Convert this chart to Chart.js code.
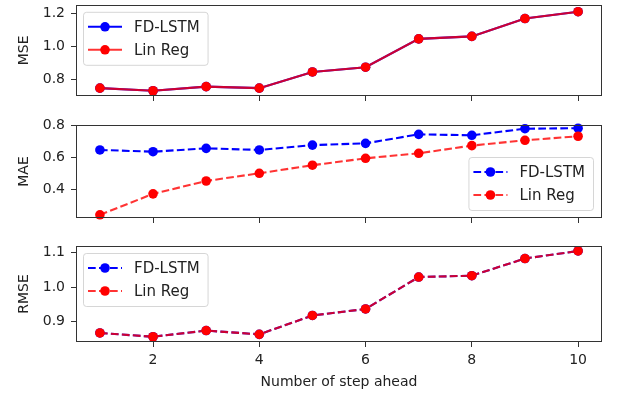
<!DOCTYPE html>
<html>
<head>
<meta charset="utf-8">
<script src="https://cdn.jsdelivr.net/npm/chart.js@4.4.1/dist/chart.umd.min.js"></script>
<style>
  body { margin: 0; background: #fff; }
  #wrap { position: relative; width: 617px; height: 396px; }
  canvas { position: absolute; left: 0; }
</style>
</head>
<body>
<div id="wrap">
  <canvas id="mseChart" width="617" height="110" style="top:0px"></canvas>
  <canvas id="maeChart" width="617" height="120" style="top:112px"></canvas>
  <canvas id="rmseChart" width="617" height="162" style="top:234px"></canvas>
</div>
<script>
// data
const steps = [1, 2, 3, 4, 5, 6, 7, 8, 9, 10];
const seriesNames = ['FD-LSTM', 'Lin Reg'];

const mseLstm   = [0.745, 0.729, 0.754, 0.745, 0.844, 0.873, 1.046, 1.061, 1.170, 1.212];
const mseLinReg = [0.745, 0.729, 0.754, 0.745, 0.844, 0.873, 1.046, 1.061, 1.170, 1.212];

const maeLstm   = [0.648, 0.637, 0.658, 0.648, 0.678, 0.689, 0.745, 0.739, 0.780, 0.783];
const maeLinReg = [0.245, 0.375, 0.455, 0.503, 0.553, 0.596, 0.627, 0.675, 0.708, 0.733];

const rmseLstm   = [0.866, 0.855, 0.873, 0.862, 0.917, 0.936, 1.029, 1.033, 1.083, 1.105];
const rmseLinReg = [0.866, 0.855, 0.873, 0.862, 0.917, 0.936, 1.029, 1.033, 1.083, 1.105];

const xTicks = [2, 4, 6, 8, 10];
const mseTicks = [0.8, 1.0, 1.2];
const maeTicks = [0.4, 0.6, 0.8];
const rmseTicks = [0.9, 1.0, 1.1];

const FONT = 'DejaVu Sans';
const TEXT = '#222';
const AXIS = '#333';
const DASH = [7.7, 3.3];

// frame box + matplotlib style legend inside the axes
const frameLegend = {
  id: 'frameLegend',
  afterDatasetsDraw(chart, args, opts) {
    const ctx = chart.ctx, a = chart.chartArea;
    ctx.save();
    ctx.strokeStyle = AXIS;
    ctx.lineWidth = 1;
    ctx.strokeRect(Math.round(a.left) + 0.5, Math.round(a.top) + 0.5,
      Math.round(a.right - a.left) - 1, Math.round(a.bottom - a.top) - 1);

    ctx.font = '15px "' + FONT + '"';
    const textW = Math.max(...chart.data.datasets.map(d => ctx.measureText(d.label).width));
    const w = 51 + textW + 8, h = 53;
    const bx = opts.corner === 'tl' ? a.left + 7 : a.right - 9 - w;
    const by = opts.corner === 'tl' ? a.top + 7 : a.bottom - 8 - h;

    ctx.beginPath();
    ctx.roundRect(bx + 0.5, by + 0.5, w, h, 3);
    ctx.fillStyle = 'rgba(255,255,255,0.8)';
    ctx.fill();
    ctx.strokeStyle = 'rgba(204,204,204,0.8)';
    ctx.stroke();

    chart.data.datasets.forEach((d, i) => {
      const y = by + 15 + i * 23;
      ctx.beginPath();
      ctx.setLineDash(d.borderDash || []);
      ctx.strokeStyle = d.borderColor;
      ctx.lineWidth = d.borderWidth;
      ctx.moveTo(bx + 5, y);
      ctx.lineTo(bx + 39, y);
      ctx.stroke();
      ctx.setLineDash([]);
      ctx.beginPath();
      ctx.arc(bx + 22, y, 4.8, 0, Math.PI * 2);
      ctx.fillStyle = d.pointBackgroundColor;
      ctx.fill();
      ctx.fillStyle = TEXT;
      ctx.textBaseline = 'middle';
      ctx.textAlign = 'left';
      ctx.fillText(d.label, bx + 51, y + 1);
    });
    ctx.restore();
  }
};

function series(label, values, color, lineColor, dashed, order) {
  return {
    label: label,
    data: steps.map((s, i) => ({ x: s, y: values[i] })),
    borderColor: lineColor,
    backgroundColor: color,
    pointBackgroundColor: color,
    pointBorderColor: color,
    pointBorderWidth: 0,
    pointRadius: 4.8,
    borderWidth: 2.1,
    borderDash: dashed ? DASH : [],
    order: order,
    clip: false
  };
}

function makeChart(id, opts) {
  const bottomAxis = opts.showX;
  new Chart(document.getElementById(id), {
    type: 'line',
    data: {
      datasets: [
        series(seriesNames[0], opts.lstm, '#0000ff', '#0000ff', opts.dashed, 1),
        series(seriesNames[1], opts.lin, '#ff0000', 'rgba(255,0,0,0.8)', opts.dashed, 0)
      ]
    },
    options: {
      responsive: false,
      animation: false,
      devicePixelRatio: 1,
      layout: { padding: { top: opts.padTop, right: 15, bottom: 0, left: 0 } },
      plugins: {
        legend: { display: false },
        tooltip: { enabled: false },
        frameLegend: { corner: opts.corner }
      },
      scales: {
        x: {
          type: 'linear',
          min: 0.55,
          max: 10.45,
          afterBuildTicks: s => { s.ticks = xTicks.map(v => ({ value: v })); },
          afterFit: s => {
            s.height = bottomAxis ? 54 : 14;
            s.paddingLeft = 0; s.paddingRight = 0;
          },
          grid: { color: 'transparent', tickColor: AXIS, tickLength: 5 },
          border: { display: false },
          ticks: {
            display: bottomAxis,
            color: TEXT,
            font: { family: FONT, size: 14 },
            padding: 5,
            maxRotation: 0,
            autoSkip: false
          },
          title: {
            display: bottomAxis,
            text: 'Number of step ahead',
            color: TEXT,
            font: { family: FONT, size: 14 },
            padding: { top: 0, bottom: 5 }
          }
        },
        y: {
          min: opts.min,
          max: opts.max,
          afterBuildTicks: s => { s.ticks = opts.ticks.map(v => ({ value: v })); },
          afterFit: s => {
            s.width = 76;
            s.paddingTop = 0; s.paddingBottom = 0;
          },
          grid: { color: 'transparent', tickColor: AXIS, tickLength: 5 },
          border: { display: false },
          ticks: {
            color: TEXT,
            font: { family: FONT, size: 14 },
            padding: 6,
            callback: v => v.toFixed(1)
          },
          title: {
            display: true,
            text: opts.title,
            color: TEXT,
            font: { family: FONT, size: 14 },
            padding: { top: 16, bottom: 0 }
          }
        }
      }
    },
    plugins: [frameLegend]
  });
}

makeChart('mseChart', {
  lstm: mseLstm, lin: mseLinReg, title: 'MSE', ticks: mseTicks,
  min: 0.697, max: 1.254, dashed: false, corner: 'tl', padTop: 0, showX: false
});
makeChart('maeChart', {
  lstm: maeLstm, lin: maeLinReg, title: 'MAE', ticks: maeTicks,
  min: 0.225, max: 0.803, dashed: true, corner: 'br', padTop: 13, showX: false
});
makeChart('rmseChart', {
  lstm: rmseLstm, lin: rmseLinReg, title: 'RMSE', ticks: rmseTicks,
  min: 0.8397, max: 1.1195, dashed: true, corner: 'tl', padTop: 12, showX: true
});
</script>
</body>
</html>
